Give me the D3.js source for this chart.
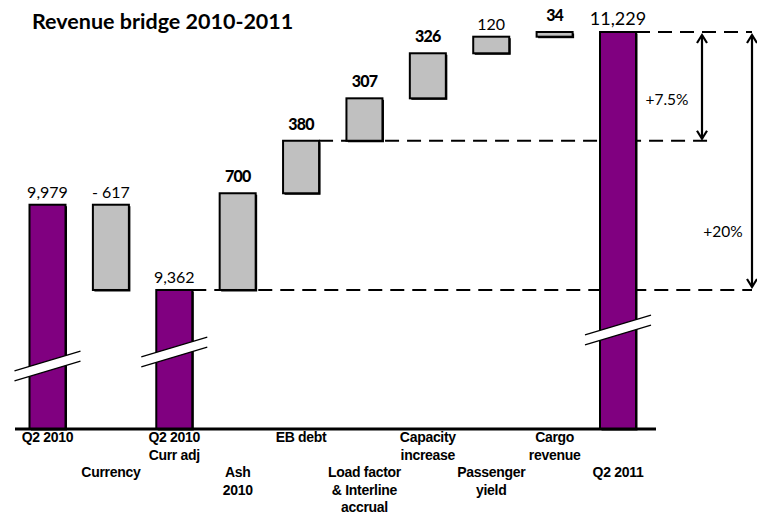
<!DOCTYPE html>
<html>
<head>
<meta charset="utf-8">
<script src="https://cdn.jsdelivr.net/npm/d3@7"></script>
<style>
  html, body { margin: 0; padding: 0; background: #ffffff; }
  svg { display: block; }
</style>
</head>
<body>
<svg id="chart" width="757" height="516"></svg>
<script>
// Revenue bridge data: totals and the deltas between them
const categories = ["Q2 2010", "Currency", "Q2 2010 Curr adj", "Ash 2010", "EB debt",
  "Load factor & Interline accrual", "Capacity increase", "Passenger yield", "Cargo revenue", "Q2 2011"];
const categoryLines = [["Q2 2010"], ["Currency"], ["Q2 2010", "Curr adj"], ["Ash", "2010"], ["EB debt"],
  ["Load factor", "& Interline", "accrual"], ["Capacity", "increase"], ["Passenger", "yield"],
  ["Cargo", "revenue"], ["Q2 2011"]];
const values = [9979, -617, 9362, 700, 380, 307, 326, 120, 34, 11229];
const kinds = ["total", "delta", "total", "delta", "delta", "delta", "delta", "delta", "delta", "total"];
const valueLabels = ["9,979", "- 617", "9,362", "700", "380", "307", "326", "120", "34", "11,229"];
const boldLabels = [false, false, false, true, true, true, true, false, true, false];
const growthLabels = ["+7.5%", "+20%"];
const titleText = "Revenue bridge 2010-2011";

const svg = d3.select("#chart");
const PURPLE = "#800080", GREY = "#c0c0c0";

// Build running start/end for every step
let running = 0;
const steps = categories.map((c, i) => {
  let start, end;
  if (kinds[i] === "total") { start = null; end = values[i]; }
  else { start = running; end = running + values[i]; }
  running = end;
  return { cat: c, i, kind: kinds[i], start, end, value: values[i] };
});

const x = d3.scalePoint().domain(categories).range([47.5, 618]);
const barW = 36;
// value axis is broken: the totals are cut and rest on the baseline
const y = d3.scaleLinear().domain([8356, 11229]).range([429, 32]);
const baseY = y.range()[0];

// dashed reference levels
const lvlStart = values[2];
const lvlMid = lvlStart + values[3] + values[4];
const lvlEnd = values[9];
const dashed = [
  { v: lvlStart, x1: x(categories[2]) + barW / 2, x2: 752 },
  { v: lvlMid, x1: x(categories[4]) + barW / 2, x2: 712 },
  { v: lvlEnd, x1: x(categories[9]) + barW / 2, x2: 752 }
];
svg.append("g").selectAll("line").data(dashed).join("line")
  .attr("x1", d => d.x1).attr("x2", d => d.x2)
  .attr("y1", d => y(d.v)).attr("y2", d => y(d.v))
  .attr("stroke", "#000").attr("stroke-width", 1.8)
  .attr("stroke-dasharray", "14,8");

// bars with a small drop shadow
const barG = svg.append("g");
steps.forEach(s => {
  const top = s.kind === "total" ? y(s.end) : y(Math.max(s.start, s.end));
  const bot = s.kind === "total" ? baseY : y(Math.min(s.start, s.end));
  const x0 = x(s.cat) - barW / 2;
  barG.append("rect").attr("x", x0 + 1.5).attr("y", top + 1.5)
    .attr("width", barW).attr("height", Math.max(bot - top, 1))
    .attr("fill", "#000");
  barG.append("rect").attr("x", x0).attr("y", top)
    .attr("width", barW).attr("height", Math.max(bot - top, 1))
    .attr("fill", s.kind === "total" ? PURPLE : GREY)
    .attr("stroke", "#000").attr("stroke-width", 2);
});

// break symbols on the cut total bars
const breakCentres = { 0: 366, 2: 352, 9: 330 };
Object.keys(breakCentres).forEach(k => {
  const cx = x(categories[+k]);
  const cy = breakCentres[k];
  const half = 33, slope = 0.3, gap = 10;
  const xa = cx - half, xb = cx + half;
  const ya = cy + half * slope, yb = cy - half * slope;
  svg.append("path")
    .attr("d", `M${xa},${ya - gap / 2}L${xb},${yb - gap / 2}L${xb},${yb + gap / 2}L${xa},${ya + gap / 2}Z`)
    .attr("fill", "#fff");
  [-gap / 2, gap / 2].forEach(o => {
    svg.append("line").attr("x1", xa).attr("y1", ya + o).attr("x2", xb).attr("y2", yb + o)
      .attr("stroke", "#000").attr("stroke-width", 1.2);
  });
});

// baseline
svg.append("line").attr("x1", 15).attr("x2", 656).attr("y1", baseY).attr("y2", baseY)
  .attr("stroke", "#000").attr("stroke-width", 3);

// value labels
steps.forEach((s, i) => {
  const top = s.kind === "total" ? y(s.end) : y(Math.max(s.start, s.end));
  const bold = boldLabels[i];
  svg.append("text")
    .attr("x", x(s.cat)).attr("y", top - (bold ? 11 : 7))
    .attr("text-anchor", "middle")
    .attr("font-family", "Lato, 'Open Sans', sans-serif")
    .attr("font-size", i === 9 ? 18 : 16)
    .attr("font-weight", bold ? 900 : 400)
    .attr("letter-spacing", bold ? -0.8 : 0)
    .attr("fill", "#000")
    .text(valueLabels[i]);
});

// category labels, alternating rows
const rowY = [442, 460, 477, 495, 512];
categoryLines.forEach((lines, i) => {
  const startRow = i % 2 === 0 ? 0 : 2;
  lines.forEach((ln, j) => {
    svg.append("text")
      .attr("x", x(categories[i])).attr("y", rowY[startRow + j])
      .attr("text-anchor", "middle")
      .attr("font-family", "'Liberation Sans', Arial, sans-serif")
      .attr("font-weight", 700).attr("font-size", 14)
      .attr("letter-spacing", -0.3)
      .attr("fill", "#000")
      .text(ln);
  });
});

// growth arrows
function arrow(ax, y1, y2) {
  const g = svg.append("g").attr("stroke", "#000").attr("fill", "none").attr("stroke-width", 2.2);
  g.append("line").attr("x1", ax).attr("x2", ax).attr("y1", y1 + 1).attr("y2", y2 - 1);
  g.append("path").attr("d", `M${ax - 5},${y1 + 9}L${ax},${y1 + 1}L${ax + 5},${y1 + 9}`);
  g.append("path").attr("d", `M${ax - 5},${y2 - 9}L${ax},${y2 - 1}L${ax + 5},${y2 - 9}`);
}
arrow(702, y(lvlEnd) + 2, y(lvlMid) - 1);
arrow(752, y(lvlEnd) + 2, y(lvlStart) - 2);
svg.append("text").attr("x", 667).attr("y", 105).attr("text-anchor", "middle")
  .attr("font-family", "Lato, 'Open Sans', sans-serif").attr("font-size", 15.5)
  .text(growthLabels[0]);
svg.append("text").attr("x", 723).attr("y", 237).attr("text-anchor", "middle")
  .attr("font-family", "Lato, 'Open Sans', sans-serif").attr("font-size", 15.5)
  .text(growthLabels[1]);

// title
svg.append("text").attr("x", 32).attr("y", 29)
  .attr("font-family", "Lato, 'Open Sans', sans-serif")
  .attr("font-weight", 700).attr("font-size", 21.5)
  .attr("fill", "#000")
  .text(titleText);
</script>
</body>
</html>
